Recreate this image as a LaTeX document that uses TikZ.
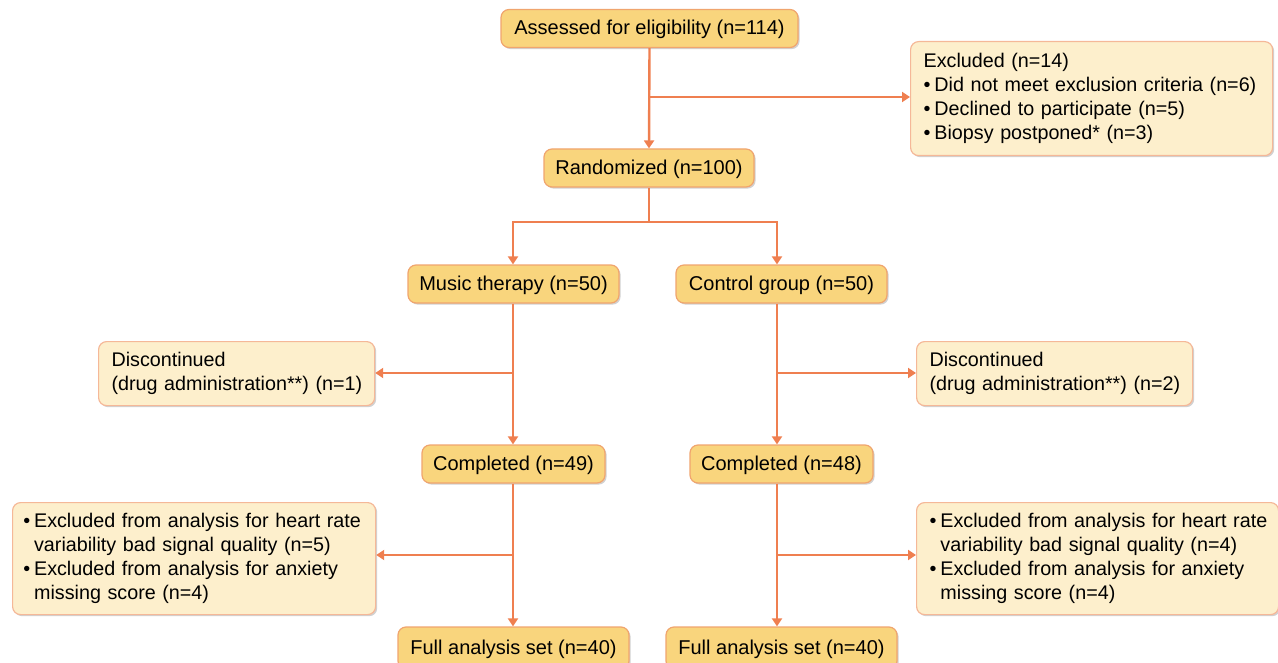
\documentclass[tikz,border=0pt]{standalone}
\usepackage{fontspec}
\setmainfont{Liberation Sans}
\usetikzlibrary{arrows.meta,shadows,calc}
\definecolor{mainfill}{HTML}{F9D57D}
\definecolor{mainborder}{HTML}{F0A56E}
\definecolor{subfill}{HTML}{FDEFCC}
\definecolor{subborder}{HTML}{F5B898}
\definecolor{arrcol}{HTML}{EF7F50}
\tikzset{
  boxbase/.style={rounded corners=6pt, line width=0.9pt, font=\fontsize{15pt}{18pt}\selectfont,
    drop shadow={shadow xshift=1.2pt, shadow yshift=-1.2pt, opacity=0.18, fill=black}},
  mainbox/.style={boxbase, fill=mainfill, draw=mainborder, minimum height=28.5pt, inner sep=0pt, align=center,
    text height=1.15em, text depth=0.2em},
  subbox/.style={boxbase, fill=subfill, draw=subborder, align=left, inner ysep=0pt, inner xsep=9.75pt,
    font=\fontsize{14.8pt}{18pt}\selectfont},
  conn/.style={draw=arrcol, line width=1.8pt},
  arr/.style={conn, -{Triangle[length=6pt,width=7.5pt]}},
}
\newcommand{\bl}{\textbullet\hspace{0.2em}}
\newcommand{\hi}{\hphantom{\textbullet\hspace{0.2em}}}
\begin{document}
\begin{tikzpicture}[x=0.75pt,y=-0.75pt]
\useasboundingbox (0,0) rectangle (1278,663);
\begin{scope}
\clip (0,0) rectangle (1278,663);
% main boxes
\node[mainbox, minimum width=222.75pt] (assess) at (649.5,28.5) {Assessed for eligibility (n=114)};
\node[mainbox, minimum width=157.5pt] (rand) at (649,168) {Randomized (n=100)};
\node[mainbox, minimum width=158.25pt] (music) at (513.5,284) {Music therapy (n=50)};
\node[mainbox, minimum width=158.25pt] (ctrl) at (781.5,284) {Control group (n=50)};
\node[mainbox, minimum width=137.25pt] (comp1) at (513.5,464) {Completed (n=49)};
\node[mainbox, minimum width=137.25pt] (comp2) at (781.5,464) {Completed (n=48)};
\node[mainbox, minimum width=173.25pt, minimum height=31.5pt] (full1) at (513.5,648) {Full analysis set (n=40)};
\node[mainbox, minimum width=173.25pt, minimum height=31.5pt] (full2) at (781.5,648) {Full analysis set (n=40)};
% side boxes
\node[subbox, anchor=north west, text width=252pt, minimum height=85.5pt] (excl) at (910,41)
  {\mbox{Excluded (n=14)}\\\mbox{\bl Did not meet exclusion criteria (n=6)}\\\mbox{\bl Declined to participate (n=5)}\\\mbox{\bl Biopsy postponed* (n=3)}};
\node[subbox, anchor=north west, text width=187.5pt, minimum height=48pt] (disc1) at (98,341)
  {\mbox{Discontinued}\\\mbox{(drug administration**) (n=1)}};
\node[subbox, anchor=north west, text width=187.5pt, minimum height=48pt] (disc2) at (916,341)
  {\mbox{Discontinued}\\\mbox{(drug administration**) (n=2)}};
\node[subbox, anchor=north west, text width=256.25pt, minimum height=84pt, inner xsep=8pt] (ana1) at (12,502)
  {\mbox{\bl Excluded from analysis for heart rate}\\\mbox{\hi variability bad signal quality (n=5)}\\\mbox{\bl Excluded from analysis for anxiety}\\\mbox{\hi missing score (n=4)}};
\node[subbox, anchor=north west, text width=252pt, minimum height=84pt, inner xsep=9.75pt] (ana2) at (916,502)
  {\mbox{\bl Excluded from analysis for heart rate}\\\mbox{\hi variability bad signal quality (n=4)}\\\mbox{\bl Excluded from analysis for anxiety}\\\mbox{\hi missing score (n=4)}};
% coordinates
\coordinate (b1) at (649,97);
\coordinate (r1) at (649,222);
\coordinate (L) at (513,0);
\coordinate (R) at (777,0);
\coordinate (ld) at (513,373);
\coordinate (rd) at (777,373);
\coordinate (la) at (513,555);
\coordinate (ra) at (777,555);
% connectors
\draw[arr] (assess.south) -- (rand.north);
\draw[arr] (b1) -- (excl.west |- b1);
\draw[conn] (rand.south) -- (r1);
\draw[arr] (r1) -| (L |- music.north);
\draw[arr] (r1) -| (R |- ctrl.north);
\draw[arr] (L |- music.south) -- (L |- comp1.north);
\draw[arr] (R |- ctrl.south) -- (R |- comp2.north);
\draw[arr] (ld) -- (ld -| disc1.east);
\draw[arr] (rd) -- (rd -| disc2.west);
\draw[arr] (L |- comp1.south) -- (L |- full1.north);
\draw[arr] (R |- comp2.south) -- (R |- full2.north);
\draw[arr] (la) -- (la -| ana1.east);
\draw[arr] (ra) -- (ra -| ana2.west);
\end{scope}
\end{tikzpicture}
\end{document}
